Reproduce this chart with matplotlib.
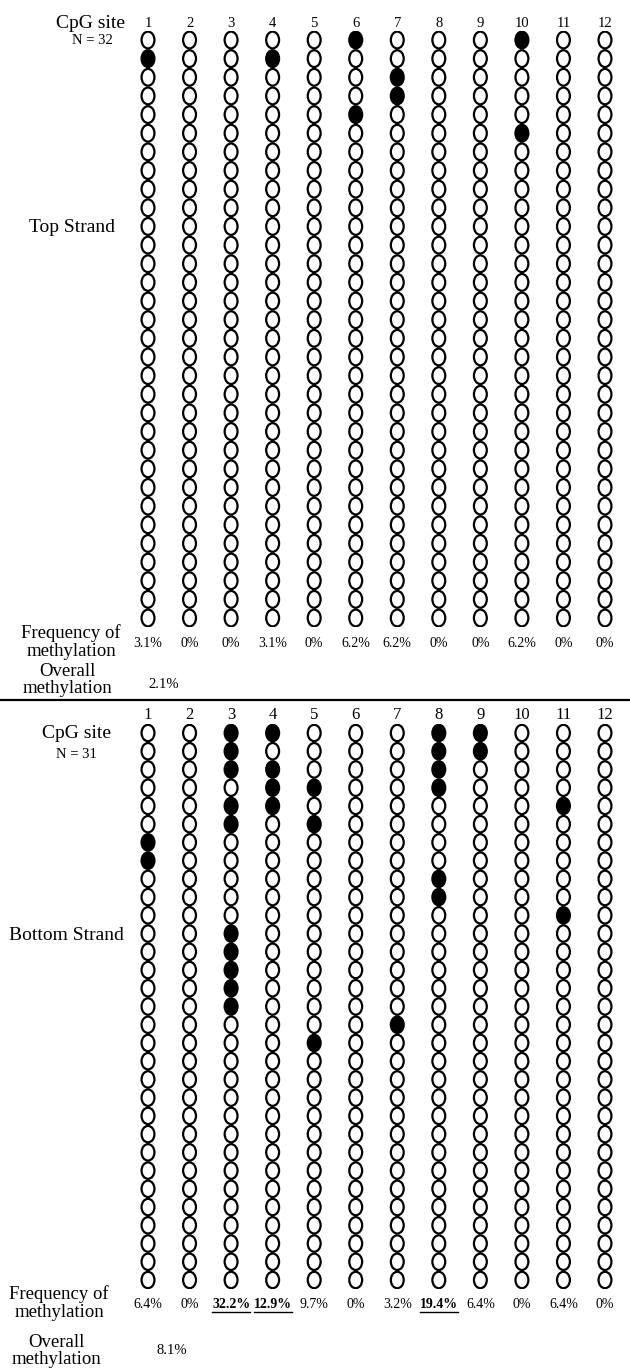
from matplotlib import pyplot as plt
from matplotlib.patches import Ellipse
from matplotlib.lines import Line2D

plt.rcParams['font.family'] = ['Liberation Serif', 'DejaVu Serif']

sites = list(range(1, 13))

# methylated clones (row numbers, counted from the top) for each CpG site
top_n = 32
top_methylated = {1: [2], 4: [2], 6: [1, 5], 7: [3, 4], 10: [1, 6]}
top_freq = ['3.1%', '0%', '0%', '3.1%', '0%', '6.2%', '6.2%', '0%', '0%', '6.2%', '0%', '0%']
top_overall = '2.1%'

bottom_n = 31
bottom_methylated = {1: [7, 8], 3: [1, 2, 3, 5, 6, 12, 13, 14, 15, 16], 4: [1, 3, 4, 5],
                     5: [4, 6, 18], 7: [17], 8: [1, 2, 3, 4, 9, 10], 9: [1, 2], 11: [5, 11]}
bottom_freq = ['6.4%', '0%', '32.2%', '12.9%', '9.7%', '0%', '3.2%', '19.4%', '6.4%', '0%', '6.4%', '0%']
bottom_bold = [3, 4, 8]
bottom_overall = '8.1%'

W, H = 630, 1368
fig = plt.figure(figsize=(W / 100, H / 100), dpi=100)


def fx(x):
    return x / W


def fy(y):
    return 1 - y / H


def lollipop(ax, n, methylated, freq, bold=(), num_size=10):
    for s in sites:
        filled = methylated.get(s, [])
        for r in range(1, n + 1):
            ax.add_patch(Ellipse((s, r), 0.31, 0.9, lw=1.6, ec='black',
                                 fc='black' if r in filled else 'white'))
    ax.set_xlim(0.5, 12.5)
    ax.set_ylim(n + 0.5, 0.5)
    ax.axis('off')
    for s in sites:
        ax.text(s, 0.45, str(s), ha='center', va='bottom', fontsize=num_size)
    texts = []
    for s, f in zip(sites, freq):
        t = ax.text(s, n + 1.0, f, ha='center', va='top', fontsize=10,
                    fontweight='bold' if s in bold else 'normal')
        texts.append((s, t))
    return texts


# columns at x=148..605 px
col_step = (605 - 148) / 11
x0 = fx(148 - col_step / 2)
aw = fx(12 * col_step)

# top strand rows at y=40..618 px
step_top = (618 - 40) / 31
ax_top = fig.add_axes([x0, fy(618 + step_top / 2), aw, (32 * step_top) / H])
lollipop(ax_top, top_n, top_methylated, top_freq, num_size=10.5)

# bottom strand rows at y=733..1280 px
step_bot = (1280 - 733) / 30
ax_bot = fig.add_axes([x0, fy(1280 + step_bot / 2), aw, (31 * step_bot) / H])
bot_texts = lollipop(ax_bot, bottom_n, bottom_methylated, bottom_freq,
                     bold=bottom_bold, num_size=12)

# side labels
lab = dict(ha='center', va='center', fontsize=13.5, linespacing=1.05)
fig.text(fx(125), fy(23), 'CpG site', ha='right', va='center', fontsize=14)
fig.text(fx(92), fy(40), 'N = 32', ha='center', va='center', fontsize=10.5)
fig.text(fx(72), fy(227), 'Top Strand', ha='center', va='center', fontsize=14)
fig.text(fx(71), fy(642), 'Frequency of\nmethylation', **lab)
fig.text(fx(67), fy(680), 'Overall\nmethylation', **lab)
fig.text(fx(164), fy(684), top_overall, ha='center', va='center', fontsize=10.5)

fig.add_artist(Line2D([0.0, 1.0], [fy(700), fy(700)], color='black', lw=1.6))

fig.text(fx(76), fy(733), 'CpG site', ha='center', va='center', fontsize=14)
fig.text(fx(76), fy(755), 'N = 31', ha='center', va='center', fontsize=10.5)
fig.text(fx(66), fy(935), 'Bottom Strand', ha='center', va='center', fontsize=14)
fig.text(fx(59), fy(1303), 'Frequency of\nmethylation', **lab)
fig.text(fx(56), fy(1351), 'Overall\nmethylation', **lab)
fig.text(fx(172), fy(1350), bottom_overall, ha='center', va='center', fontsize=10.5)

# underline the significant frequencies
fig.canvas.draw()
inv = fig.transFigure.inverted()
for s, t in bot_texts:
    if s in bottom_bold:
        bb = t.get_window_extent()
        (a, b), (c, d) = inv.transform([(bb.x0, bb.y0 - 1), (bb.x1, bb.y0 - 1)])
        fig.add_artist(Line2D([a, c], [b, d], color='black', lw=1.0))

fig.savefig('out.png', dpi=100, facecolor='white')
